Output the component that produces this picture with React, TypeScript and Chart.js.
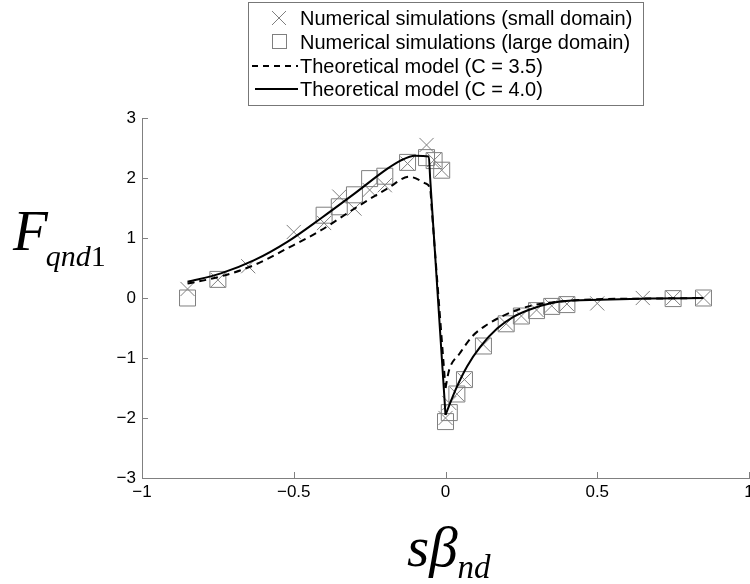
import React, { useEffect, useRef } from "react";
import { Chart, registerables } from "chart.js";

Chart.register(...registerables);

// Numerical simulations (small domain) — crosses
const crossX = [-0.85, -0.75, -0.65, -0.5, -0.4, -0.35, -0.3, -0.25, -0.2, -0.125, -0.0625, -0.0375, -0.0125, 0.0, 0.0125, 0.0375, 0.0625, 0.125, 0.2, 0.25, 0.3, 0.35, 0.4, 0.5, 0.65, 0.75, 0.85];
const crossY = [0.15, 0.3, 0.53, 1.1, 1.25, 1.69, 1.49, 1.8, 1.88, 2.24, 2.55, 2.3, 2.13, -2.0, -1.75, -1.6, -1.36, -0.78, -0.43, -0.3, -0.2, -0.13, -0.1, -0.09, 0.0, 0.0, 0.0];

// Numerical simulations (large domain) — squares
const squareX = [-0.85, -0.75, -0.4, -0.35, -0.3, -0.25, -0.2, -0.125, -0.0625, -0.0375, -0.0125, 0.0, 0.0125, 0.0375, 0.0625, 0.125, 0.2, 0.25, 0.3, 0.35, 0.4, 0.75, 0.85];
const squareY = [0.0, 0.31, 1.38, 1.52, 1.72, 1.99, 2.03, 2.26, 2.34, 2.29, 2.13, -2.06, -1.91, -1.6, -1.36, -0.8, -0.43, -0.3, -0.21, -0.14, -0.11, -0.01, 0.0];

// Theoretical model (C = 3.5) — dashed; rising branch (down to the minimum) and recovery branch
const c35RiseX = [-0.85, -0.74, -0.63, -0.52, -0.41, -0.3, -0.19, -0.12, -0.066, -0.05, -0.046, -0.004, 0.0];
const c35RiseY = [0.24, 0.36, 0.55, 0.83, 1.13, 1.49, 1.83, 2.02, 1.91, 1.8, 1.53, -1.24, -1.5];
const c35RecX = [0.0, 0.012, 0.046, 0.09, 0.135, 0.18, 0.236, 0.29, 0.4, 0.5, 0.65, 0.85];
const c35RecY = [-1.5, -1.2, -0.93, -0.63, -0.45, -0.32, -0.2, -0.12, -0.05, -0.02, -0.01, 0.0];

// Theoretical model (C = 4.0) — solid; rising branch and recovery branch
const c40RiseX = [-0.85, -0.74, -0.63, -0.52, -0.41, -0.3, -0.19, -0.148, -0.1, -0.055, -0.0506, -0.0044, 0.0];
const c40RiseY = [0.27, 0.41, 0.63, 0.94, 1.33, 1.74, 2.16, 2.29, 2.37, 2.36, 2.0, -1.6, -1.95];
const c40RecX = [0.0, 0.033, 0.071, 0.115, 0.17, 0.225, 0.29, 0.378, 0.51, 0.674, 0.85];
const c40RecY = [-1.95, -1.53, -1.14, -0.81, -0.51, -0.31, -0.17, -0.06, -0.03, -0.01, 0.0];

const xTicks = [-1, -0.5, 0, 0.5, 1];
const yTicks = [-3, -2, -1, 0, 1, 2, 3];

const legendLabels = [
  "Numerical simulations (small domain)",
  "Numerical simulations (large domain)",
  "Theoretical model (C = 3.5)",
  "Theoretical model (C = 4.0)",
];

const W = 750;
const H = 584;
const MARK = "#7f7f7f";
const AXIS = "#808080";
const SANS = "'Liberation Sans', Arial, Helvetica, sans-serif";
const SERIF = "'Liberation Serif', 'Times New Roman', serif";

function fmt(v: number): string {
  return v < 0 ? "\u2212" + String(Math.abs(v)) : String(v);
}

function pts(xs: number[], ys: number[]) {
  return xs.map((x, i) => ({ x, y: ys[i] }));
}

function lineSet(label: string, xs: number[], ys: number[], dashed: boolean) {
  return {
    label,
    data: pts(xs, ys),
    showLine: true,
    borderColor: "#000",
    borderWidth: 2,
    borderDash: dashed ? [7, 5] : [],
    pointRadius: 0,
    pointHoverRadius: 0,
    cubicInterpolationMode: "monotone",
    fill: false,
  };
}

export default function App() {
  const ref = useRef<HTMLCanvasElement>(null);

  useEffect(() => {
    const decor = {
      id: "decor",
      afterDraw(chart: any) {
        const ctx = chart.ctx as CanvasRenderingContext2D;
        const xs = chart.scales.x;
        const ys = chart.scales.y;
        const area = chart.chartArea;
        ctx.save();
        // inward tick marks
        ctx.strokeStyle = AXIS;
        ctx.lineWidth = 1;
        ctx.beginPath();
        xTicks.forEach((v) => {
          const px = Math.round(xs.getPixelForValue(v)) + 0.5;
          ctx.moveTo(px, area.bottom);
          ctx.lineTo(px, area.bottom - 6);
        });
        yTicks.forEach((v) => {
          const py = Math.round(ys.getPixelForValue(v)) + 0.5;
          ctx.moveTo(area.left, py);
          ctx.lineTo(area.left + 6, py);
        });
        ctx.stroke();

        // legend (centred over the axes)
        ctx.font = "20px " + SANS;
        const tw = Math.max(...legendLabels.map((l) => ctx.measureText(l).width));
        const bx = 248.5, by = 2.5;
        const bw = Math.round(300 + tw + 11 - bx);
        const bh = 103;
        ctx.fillStyle = "#fff";
        ctx.fillRect(bx, by, bw, bh);
        ctx.strokeStyle = "#777";
        ctx.strokeRect(bx, by, bw, bh);
        const rowsY = [18, 42, 66, 89];
        ctx.strokeStyle = MARK;
        ctx.beginPath();
        ctx.moveTo(279 - 7, rowsY[0] - 7);
        ctx.lineTo(279 + 7, rowsY[0] + 7);
        ctx.moveTo(279 + 7, rowsY[0] - 7);
        ctx.lineTo(279 - 7, rowsY[0] + 7);
        ctx.stroke();
        ctx.strokeRect(272.5, rowsY[1] - 7.5, 14, 14);
        ctx.strokeStyle = "#000";
        ctx.lineWidth = 2;
        ctx.setLineDash([6, 5]);
        ctx.beginPath();
        ctx.moveTo(252, rowsY[2]);
        ctx.lineTo(298, rowsY[2]);
        ctx.stroke();
        ctx.setLineDash([]);
        ctx.beginPath();
        ctx.moveTo(255, rowsY[3]);
        ctx.lineTo(298, rowsY[3]);
        ctx.stroke();
        ctx.fillStyle = "#000";
        ctx.textAlign = "left";
        ctx.textBaseline = "middle";
        legendLabels.forEach((l, i) => {
          ctx.fillText(l, 300, rowsY[i] + 1);
        });

        // y axis title F_qnd1
        ctx.textBaseline = "alphabetic";
        ctx.font = "italic 57px " + SERIF;
        ctx.fillText("F", 13, 250);
        let cx = 13 + ctx.measureText("F").width - 2;
        ctx.font = "italic 30px " + SERIF;
        ctx.fillText("qnd", cx, 266);
        cx += ctx.measureText("qnd").width;
        ctx.font = "30px " + SERIF;
        ctx.fillText("1", cx, 266);

        // x axis title s beta_nd
        ctx.font = "italic 57px " + SERIF;
        ctx.fillText("s", 407, 566);
        let ex = 407 + ctx.measureText("s").width;
        ctx.fillText("\u03B2", ex, 566);
        ex += ctx.measureText("\u03B2").width;
        ctx.font = "italic 33px " + SERIF;
        ctx.fillText("nd", ex, 578);
        ctx.restore();
      },
    };

    const chart = new Chart(ref.current as HTMLCanvasElement, {
      type: "scatter",
      data: {
        datasets: [
          lineSet(legendLabels[3], c40RiseX, c40RiseY, false),
          lineSet(legendLabels[3], c40RecX, c40RecY, false),
          lineSet(legendLabels[2], c35RiseX, c35RiseY, true),
          lineSet(legendLabels[2], c35RecX, c35RecY, true),
          {
            label: legendLabels[1],
            data: pts(squareX, squareY),
            showLine: false,
            pointStyle: "rect",
            pointRadius: 11.3,
            pointHoverRadius: 11.3,
            borderColor: MARK,
            backgroundColor: "rgba(0,0,0,0)",
            pointBorderWidth: 1,
          },
          {
            label: legendLabels[0],
            data: pts(crossX, crossY),
            showLine: false,
            pointStyle: "crossRot",
            pointRadius: 10,
            pointHoverRadius: 10,
            borderColor: MARK,
            backgroundColor: "rgba(0,0,0,0)",
            pointBorderWidth: 1,
          },
        ],
      } as any,
      options: {
        responsive: false,
        animation: false,
        events: [],
        layout: { autoPadding: false, padding: { top: 118, right: 1, left: 0, bottom: 0 } },
        plugins: { legend: { display: false }, tooltip: { enabled: false } },
        scales: {
          x: {
            type: "linear",
            min: -1,
            max: 1,
            afterBuildTicks: (s: any) => {
              s.ticks = xTicks.map((v) => ({ value: v }));
            },
            ticks: {
              callback: (v: any) => fmt(Number(v)),
              color: "#000",
              font: { family: SANS, size: 17 },
              padding: 4,
              maxRotation: 0,
              autoSkip: false,
            },
            grid: { display: false, drawTicks: false },
            border: { display: true, color: AXIS, width: 1 },
            afterFit: (s: any) => {
              s.height = H - 478;
              s.paddingLeft = 0;
              s.paddingRight = 0;
            },
          },
          y: {
            type: "linear",
            min: -3,
            max: 3,
            afterBuildTicks: (s: any) => {
              s.ticks = yTicks.map((v) => ({ value: v }));
            },
            ticks: {
              callback: (v: any) => fmt(Number(v)),
              color: "#000",
              font: { family: SANS, size: 17 },
              padding: 6,
              autoSkip: false,
            },
            grid: { display: false, drawTicks: false },
            border: { display: true, color: AXIS, width: 1 },
            afterFit: (s: any) => {
              s.width = 142;
              s.paddingTop = 0;
              s.paddingBottom = 0;
            },
          },
        },
      } as any,
      plugins: [decor],
    });
    return () => chart.destroy();
  }, []);

  return (
    <div style={{ position: "fixed", left: 0, top: 0, width: W, height: H, background: "#fff" }}>
      <canvas ref={ref} width={W} height={H} style={{ display: "block" }} />
    </div>
  );
}
